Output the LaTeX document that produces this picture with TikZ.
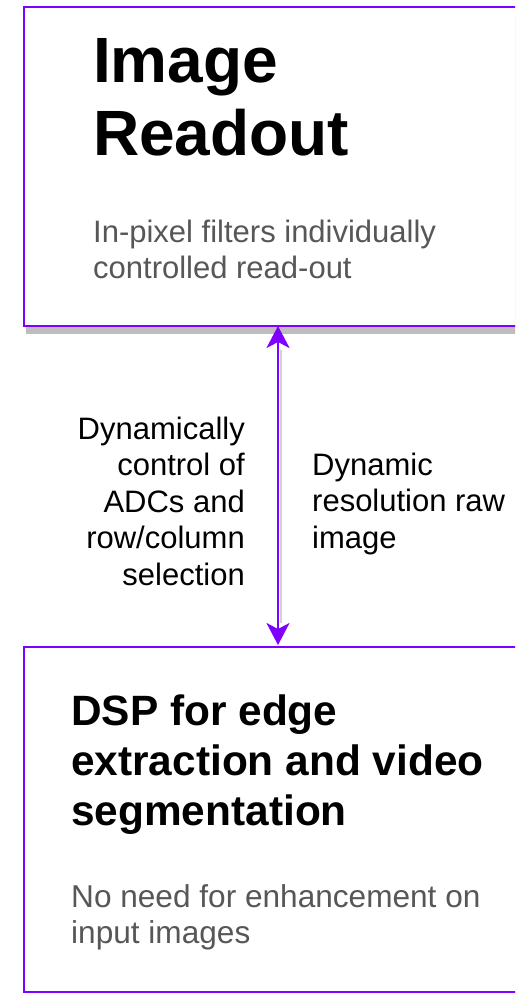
\documentclass[tikz,border=0pt]{standalone}
\usepackage{fontspec}
\setmainfont{Liberation Sans}
\usetikzlibrary{arrows.meta}
\definecolor{violetline}{HTML}{7F00FF}
\definecolor{shadowgray}{HTML}{BDBDBD}
\definecolor{subgray}{HTML}{575757}
\tikzset{
  panel/.style={draw=violetline, line width=2.4pt, fill=white, rectangle,
    inner sep=0pt, anchor=north west},
  heading/.style={inner sep=0pt, align=left, anchor=base west, font=\bfseries},
  note/.style={inner sep=0pt, text=subgray, anchor=base west, align=left,
    font=\fontsize{31}{35.5}\selectfont},
  flowlabel/.style={inner sep=0pt, font=\fontsize{31}{36.5}\selectfont},
  link/.style={draw=violetline, line width=2.2pt,
    {Stealth[length=22pt,width=23pt,inset=6pt]}-{Stealth[length=22pt,width=23pt,inset=6pt]}}
}
\begin{document}
\begin{tikzpicture}[x=1pt,y=1pt]
\useasboundingbox (0,0) rectangle (515,-993);
\clip (0,0) rectangle (515,-993);
\fill[white] (0,0) rectangle (515,-993);

% upper block with its drop shadow (multi-line texts are placed by their last baseline)
\fill[shadowgray] (26,-14) rectangle (540,-334);
\node[panel, minimum width=520pt, minimum height=319pt] (readout) at (23,-6) {};
\node[heading, font=\bfseries\fontsize{64}{73}\selectfont] (readoutTitle) at (93,-155)
  {Image\\Readout};
\node[note] (readoutNote) at (93,-278)
  {In-pixel filters individually\\controlled read-out};

% lower block
\node[panel, minimum width=520pt, minimum height=345pt] (dsp) at (23,-646) {};
\node[heading, font=\bfseries\fontsize{42.4}{50}\selectfont] (dspTitle) at (71,-825)
  {DSP for edge\\extraction and video\\segmentation};
\node[note, font=\fontsize{31.6}{36}\selectfont] (dspNote) at (71,-943)
  {No need for enhancement on\\input images};

% bidirectional link between the blocks
\coordinate (upEnd) at (278,-326);
\coordinate (downEnd) at (278,-645);
\draw[shadowgray!70, line width=1.5pt] ([xshift=3pt,yshift=-24pt]upEnd) -- ([xshift=3pt,yshift=22pt]downEnd);
\draw[link] (downEnd) -- (upEnd);

% link labels
\node[flowlabel, align=right, anchor=base east] (ctrlLabel) at (245,-585)
  {Dynamically\\control of\\ADCs and\\row/column\\selection};
\node[flowlabel, align=left, anchor=base west] (rawLabel) at (312,-548)
  {Dynamic\\resolution raw\\image};
\end{tikzpicture}
\end{document}
